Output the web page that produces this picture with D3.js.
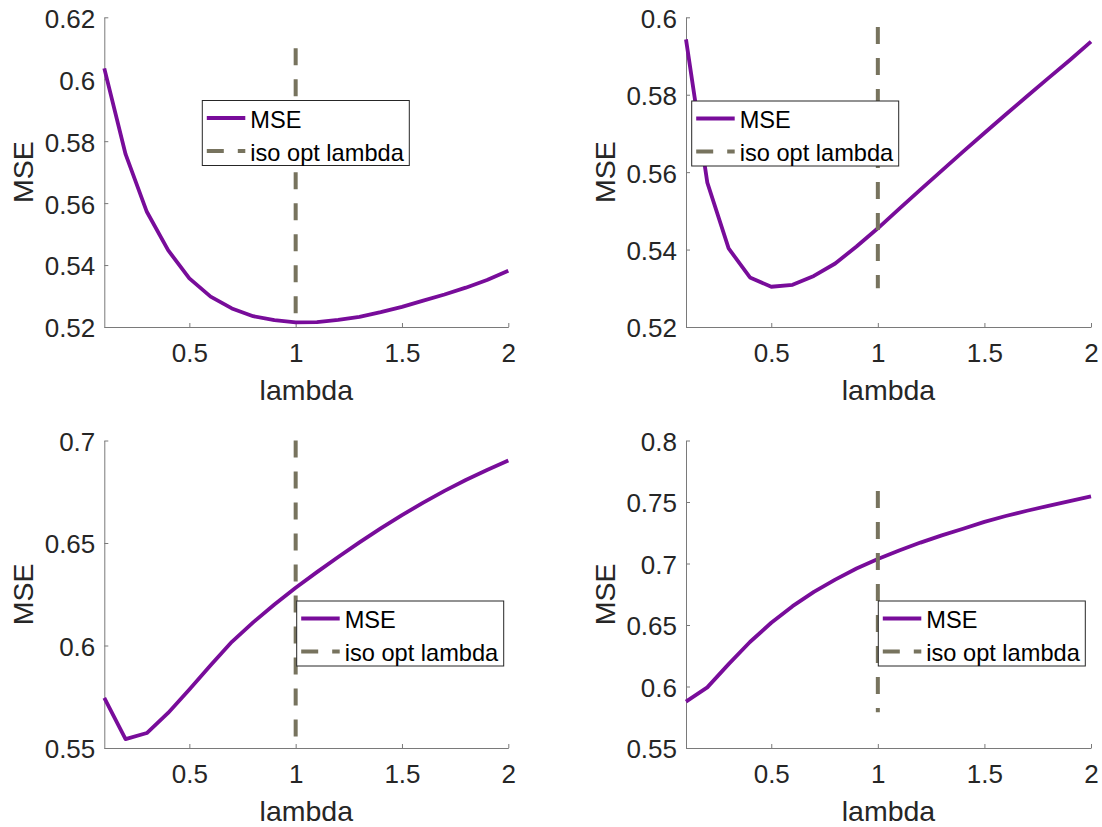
<!DOCTYPE html>
<html>
<head>
<meta charset="utf-8">
<script src="https://cdn.jsdelivr.net/npm/d3@7"></script>
<style>
  html, body { margin: 0; padding: 0; background: #ffffff; }
  svg { display: block; }
  text { font-family: "Liberation Sans", Arial, Helvetica, sans-serif; }
</style>
</head>
<body>
<svg id="chart" width="1102" height="827"></svg>
<script>
// ---- data ----
const lambdaValues = [0.1, 0.2, 0.3, 0.4, 0.5, 0.6, 0.7, 0.8, 0.9, 1.0,
                      1.1, 1.2, 1.3, 1.4, 1.5, 1.6, 1.7, 1.8, 1.9, 2.0];

const mseTopLeft = [0.6035, 0.5758, 0.5572, 0.5448, 0.5357, 0.5298, 0.5260, 0.5235, 0.5222, 0.5215,
                    0.5216, 0.5223, 0.5233, 0.5248, 0.5265, 0.5285, 0.5305, 0.5327, 0.5352, 0.5382];
const mseTopRight = [0.5943, 0.5573, 0.5403, 0.5328, 0.5304, 0.5309, 0.5332, 0.5364, 0.5408, 0.5455,
                     0.5505, 0.5555, 0.5604, 0.5653, 0.5701, 0.5749, 0.5796, 0.5843, 0.5889, 0.5937];
const mseBottomLeft = [0.5744, 0.5543, 0.5573, 0.5671, 0.5785, 0.5904, 0.6018, 0.6113, 0.6200, 0.6282,
                       0.6358, 0.6432, 0.6503, 0.6571, 0.6636, 0.6697, 0.6754, 0.6807, 0.6856, 0.6902];
const mseBottomRight = [0.5877, 0.5993, 0.6182, 0.6362, 0.6518, 0.6653, 0.6769, 0.6869, 0.6959, 0.7036,
                        0.7106, 0.7170, 0.7229, 0.7283, 0.7338, 0.7386, 0.7429, 0.7469, 0.7507, 0.7545];

const optLambda = 1;
// vertical "iso opt lambda" line extents [top, bottom]
const optLineTopLeft = [0.61, 0.52];
const optLineTopRight = [0.5975, 0.53];
const optLineBottomLeft = [0.70, 0.55];
const optLineBottomRight = [0.759, 0.579];

const xTicks = [0.5, 1, 1.5, 2];
const xTickLabels = ["0.5", "1", "1.5", "2"];
const yTicksTopLeft = [0.52, 0.54, 0.56, 0.58, 0.6, 0.62];
const yTickLabelsTopLeft = ["0.52", "0.54", "0.56", "0.58", "0.6", "0.62"];
const yTicksTopRight = [0.52, 0.54, 0.56, 0.58, 0.6];
const yTickLabelsTopRight = ["0.52", "0.54", "0.56", "0.58", "0.6"];
const yTicksBottomLeft = [0.55, 0.6, 0.65, 0.7];
const yTickLabelsBottomLeft = ["0.55", "0.6", "0.65", "0.7"];
const yTicksBottomRight = [0.55, 0.6, 0.65, 0.7, 0.75, 0.8];
const yTickLabelsBottomRight = ["0.55", "0.6", "0.65", "0.7", "0.75", "0.8"];

const legendLabels = ["MSE", "iso opt lambda"];
const xLabel = "lambda";
const yLabel = "MSE";

// ---- layout ----
const panels = [
  { mse: mseTopLeft, opt: optLineTopLeft, yDomain: [0.52, 0.62], yTicks: yTicksTopLeft, yLabels: yTickLabelsTopLeft,
    left: 104.3, right: 508.3, top: 17.3, bottom: 327, legend: { x: 202.3, y: 100.5 } },
  { mse: mseTopRight, opt: optLineTopRight, yDomain: [0.52, 0.6], yTicks: yTicksTopRight, yLabels: yTickLabelsTopRight,
    left: 686, right: 1091, top: 17.3, bottom: 327, legend: { x: 691.7, y: 101 } },
  { mse: mseBottomLeft, opt: optLineBottomLeft, yDomain: [0.55, 0.7], yTicks: yTicksBottomLeft, yLabels: yTickLabelsBottomLeft,
    left: 104.3, right: 508.3, top: 440.5, bottom: 748, legend: { x: 296.7, y: 601 } },
  { mse: mseBottomRight, opt: optLineBottomRight, yDomain: [0.55, 0.8], yTicks: yTicksBottomRight, yLabels: yTickLabelsBottomRight,
    left: 686, right: 1091, top: 440.5, bottom: 748, legend: { x: 878.3, y: 601 } }
];

const purple = "#780c9a";
const olive = "#77735e";
const axisColor = "#262626";

const svg = d3.select("#chart");

panels.forEach((p) => {
  const x = d3.scaleLinear().domain([0.1, 2]).range([p.left, p.right]);
  const y = d3.scaleLinear().domain(p.yDomain).range([p.bottom, p.top]);
  const g = svg.append("g");

  // x axis
  const xAxis = d3.axisBottom(x)
    .tickValues(xTicks)
    .tickFormat((d, i) => xTickLabels[i])
    .tickSizeInner(-4).tickSizeOuter(0).tickPadding(17);
  const gx = g.append("g").attr("transform", `translate(0,${p.bottom})`).call(xAxis);

  // y axis
  const yAxis = d3.axisLeft(y)
    .tickValues(p.yTicks)
    .tickFormat((d, i) => p.yLabels[i])
    .tickSizeInner(-4).tickSizeOuter(0).tickPadding(9);
  const gy = g.append("g").attr("transform", `translate(${p.left},0)`).call(yAxis);

  [gx, gy].forEach(ax => {
    ax.select(".domain").attr("stroke", "#7a7a7a").attr("stroke-width", 1);
    ax.selectAll(".tick line").attr("stroke", "#7a7a7a").attr("stroke-width", 1);
    ax.selectAll(".tick text")
      .attr("fill", axisColor)
      .style("font-family", '"Liberation Sans", Arial, sans-serif')
      .style("font-size", "26px");
  });
  gy.selectAll(".tick text").attr("dy", "0.38em");

  // axis labels
  g.append("text")
    .attr("x", (p.left + p.right) / 2)
    .attr("y", p.bottom + 73)
    .attr("text-anchor", "middle")
    .attr("fill", axisColor)
    .style("font-size", "28.5px")
    .text(xLabel);
  g.append("text")
    .attr("transform", `translate(${p.left - 71},${(p.top + p.bottom) / 2}) rotate(-90)`)
    .attr("text-anchor", "middle")
    .attr("fill", axisColor)
    .style("font-size", "28.5px")
    .text(yLabel);

  // MSE line
  const line = d3.line().x((d, i) => x(lambdaValues[i])).y(d => y(d));
  g.append("path")
    .datum(p.mse)
    .attr("d", line)
    .attr("fill", "none")
    .attr("stroke", purple)
    .attr("stroke-width", 3.8)
    .attr("stroke-linejoin", "round");

  // iso opt lambda vertical dashed line
  g.append("line")
    .attr("x1", x(optLambda)).attr("x2", x(optLambda))
    .attr("y1", y(p.opt[0])).attr("y2", y(p.opt[1]))
    .attr("stroke", olive)
    .attr("stroke-width", 4)
    .attr("stroke-dasharray", "17,14");

  // legend
  const L = p.legend;
  const lw = 207, lh = 65;
  const lg = g.append("g").attr("transform", `translate(${L.x},${L.y})`);
  lg.append("rect")
    .attr("width", lw).attr("height", lh)
    .attr("fill", "#ffffff")
    .attr("stroke", axisColor)
    .attr("stroke-width", 1);
  const rows = [17.5, 50.5];
  lg.append("line")
    .attr("x1", 4.5).attr("x2", 43).attr("y1", rows[0]).attr("y2", rows[0])
    .attr("stroke", purple).attr("stroke-width", 3.8);
  lg.append("line")
    .attr("x1", 4.5).attr("x2", 43).attr("y1", rows[1]).attr("y2", rows[1])
    .attr("stroke", olive).attr("stroke-width", 4).attr("stroke-dasharray", "17,14");
  legendLabels.forEach((t, i) => {
    lg.append("text")
      .attr("x", 48)
      .attr("y", rows[i] + 9.5)
      .attr("fill", "#000000")
      .style("font-size", "23.6px")
      .text(t);
  });
});
</script>
</body>
</html>
